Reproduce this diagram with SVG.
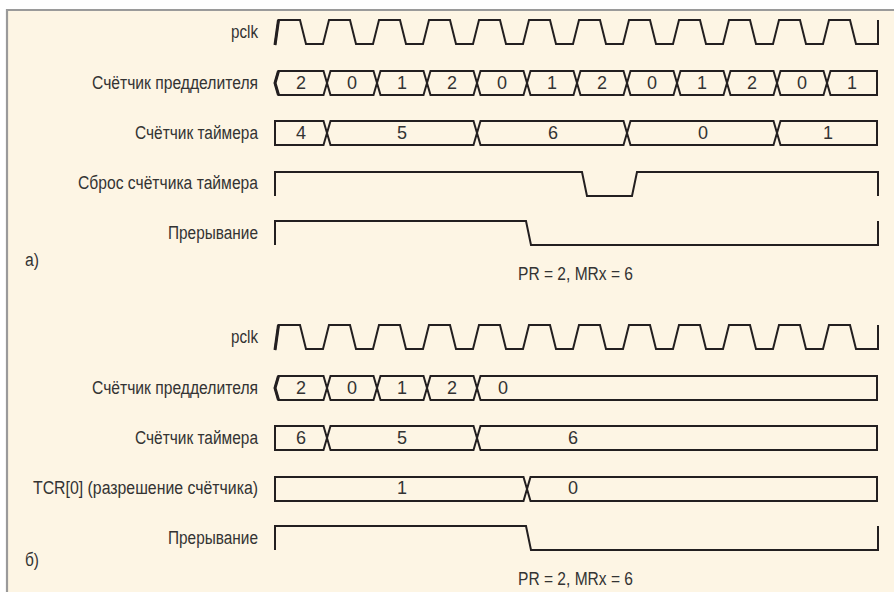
<svg xmlns="http://www.w3.org/2000/svg" width="894" height="592" viewBox="0 0 894 592">
<style>
.bg{fill:#fdf5e4}
.frame{stroke:#9a9a9a;stroke-width:2.2;fill:none}
.sig{fill:none;stroke:#231f20;stroke-width:2;stroke-linejoin:miter;stroke-miterlimit:2}
.t{font-family:'Liberation Sans',Arial,sans-serif;font-size:18px;fill:#333}
.lbl{text-anchor:end}
.v{text-anchor:middle}
</style>
<defs>
<path id="pclk" class="sig" d="M275,45 L278.5,20 H300 L306,44 H323 L329,20 H350 L356,44 H373 L379,20 H400 L406,44 H423 L429,20 H450 L456,44 H473 L479,20 H500 L506,44 H523 L529,20 H550 L556,44 H573 L579,20 H600 L606,44 H623 L629,20 H650 L656,44 H673 L679,20 H700 L706,44 H723 L729,20 H750 L756,44 H773 L779,20 H800 L806,44 H823 L829,20 H850 L856,44 H878 V20"/>
</defs>
<rect class="bg" x="7" y="10" width="887" height="582"/>
<path class="frame" d="M7,592 V10 H894"/>

<g id="a-pclk">
<text class="t lbl" x="258" y="38" textLength="27" lengthAdjust="spacingAndGlyphs">pclk</text>
<use href="#pclk"/>
<path d="M275,45 L278.5,20" stroke="#231f20" stroke-width="3" fill="none"/>
</g>

<g id="a-prescaler">
<text class="t lbl" x="258" y="89" textLength="166" lengthAdjust="spacingAndGlyphs">Счётчик предделителя</text>
<path class="sig" d="M275,83 L278.5,71 H323.5 L327,83 L330.5,71 H373.5 L377,83 L380.5,71 H423.5 L427,83 L430.5,71 H473.5 L477,83 L480.5,71 H523.5 L527,83 L530.5,71 H573.5 L577,83 L580.5,71 H623.5 L627,83 L630.5,71 H673.5 L677,83 L680.5,71 H723.5 L727,83 L730.5,71 H773.5 L777,83 L780.5,71 H823.5 L827,83 L830.5,71 H877 V95 H830.5 L827,83 L823.5,95 H780.5 L777,83 L773.5,95 H730.5 L727,83 L723.5,95 H680.5 L677,83 L673.5,95 H630.5 L627,83 L623.5,95 H580.5 L577,83 L573.5,95 H530.5 L527,83 L523.5,95 H480.5 L477,83 L473.5,95 H430.5 L427,83 L423.5,95 H380.5 L377,83 L373.5,95 H330.5 L327,83 L323.5,95 H278.5 Z"/>
<path d="M278.5,71 L275,83 L278.5,95" stroke="#231f20" stroke-width="3" fill="none"/>
<text class="t v" x="301" y="89">2</text>
<text class="t v" x="352" y="89">0</text>
<text class="t v" x="402" y="89">1</text>
<text class="t v" x="452" y="89">2</text>
<text class="t v" x="502" y="89">0</text>
<text class="t v" x="552" y="89">1</text>
<text class="t v" x="602" y="89">2</text>
<text class="t v" x="652" y="89">0</text>
<text class="t v" x="702" y="89">1</text>
<text class="t v" x="752" y="89">2</text>
<text class="t v" x="802" y="89">0</text>
<text class="t v" x="852" y="89">1</text>
</g>

<g id="a-timer">
<text class="t lbl" x="258" y="139" textLength="123" lengthAdjust="spacingAndGlyphs">Счётчик таймера</text>
<path class="sig" d="M275,121 H323.5 L327,133 L330.5,121 H473.5 L477,133 L480.5,121 H623.5 L627,133 L630.5,121 H773.5 L777,133 L780.5,121 H877 V145 H780.5 L777,133 L773.5,145 H630.5 L627,133 L623.5,145 H480.5 L477,133 L473.5,145 H330.5 L327,133 L323.5,145 H275 Z"/>
<text class="t v" x="301" y="139">4</text>
<text class="t v" x="402" y="139">5</text>
<text class="t v" x="553" y="139">6</text>
<text class="t v" x="703" y="139">0</text>
<text class="t v" x="828" y="139">1</text>
</g>

<g id="a-reset">
<text class="t lbl" x="258" y="189" textLength="180" lengthAdjust="spacingAndGlyphs">Сброс счётчика таймера</text>
<path class="sig" d="M275,196 V172 H582 L587,196 H632 L637,172 H878 V196"/>
</g>

<g id="a-interrupt">
<text class="t lbl" x="258" y="239" textLength="90" lengthAdjust="spacingAndGlyphs">Прерывание</text>
<path class="sig" d="M275,245 V221 H526 L531,245 H878 V221"/>
</g>

<g id="a-caption">
<text class="t" x="25" y="266" textLength="14" lengthAdjust="spacingAndGlyphs">а)</text>
<text class="t" x="518" y="280" textLength="115" lengthAdjust="spacingAndGlyphs">PR = 2, MRx = 6</text>
</g>

<g id="b-pclk">
<text class="t lbl" x="258" y="343" textLength="27" lengthAdjust="spacingAndGlyphs">pclk</text>
<use href="#pclk" y="305"/>
<path d="M275,350 L278.5,325" stroke="#231f20" stroke-width="3" fill="none"/>
</g>

<g id="b-prescaler">
<text class="t lbl" x="258" y="394" textLength="166" lengthAdjust="spacingAndGlyphs">Счётчик предделителя</text>
<path class="sig" d="M275,388 L278.5,376 H323.5 L327,388 L330.5,376 H373.5 L377,388 L380.5,376 H423.5 L427,388 L430.5,376 H473.5 L477,388 L480.5,376 H877 V400 H480.5 L477,388 L473.5,400 H430.5 L427,388 L423.5,400 H380.5 L377,388 L373.5,400 H330.5 L327,388 L323.5,400 H278.5 Z"/>
<path d="M278.5,376 L275,388 L278.5,400" stroke="#231f20" stroke-width="3" fill="none"/>
<text class="t v" x="301" y="394">2</text>
<text class="t v" x="352" y="394">0</text>
<text class="t v" x="402" y="394">1</text>
<text class="t v" x="452" y="394">2</text>
<text class="t v" x="503" y="394">0</text>
</g>

<g id="b-timer">
<text class="t lbl" x="258" y="444" textLength="123" lengthAdjust="spacingAndGlyphs">Счётчик таймера</text>
<path class="sig" d="M275,426 H323.5 L327,438 L330.5,426 H473.5 L477,438 L480.5,426 H877 V450 H480.5 L477,438 L473.5,450 H330.5 L327,438 L323.5,450 H275 Z"/>
<text class="t v" x="301" y="444">6</text>
<text class="t v" x="402" y="444">5</text>
<text class="t v" x="573" y="444">6</text>
</g>

<g id="b-tcr">
<text class="t lbl" x="258" y="494" textLength="225" lengthAdjust="spacingAndGlyphs">TCR[0] (разрешение счётчика)</text>
<path class="sig" d="M275,477 H523.5 L527,489 L530.5,477 H877 V501 H530.5 L527,489 L523.5,501 H275 Z"/>
<text class="t v" x="402" y="494">1</text>
<text class="t v" x="573" y="494">0</text>
</g>

<g id="b-interrupt">
<text class="t lbl" x="258" y="544" textLength="90" lengthAdjust="spacingAndGlyphs">Прерывание</text>
<path class="sig" d="M275,550 V526 H526 L531,550 H878 V526"/>
</g>

<g id="b-caption">
<text class="t" x="25" y="566" textLength="14" lengthAdjust="spacingAndGlyphs">б)</text>
<text class="t" x="518" y="585" textLength="115" lengthAdjust="spacingAndGlyphs">PR = 2, MRx = 6</text>
</g>

<g id="connectors"/>
</svg>
